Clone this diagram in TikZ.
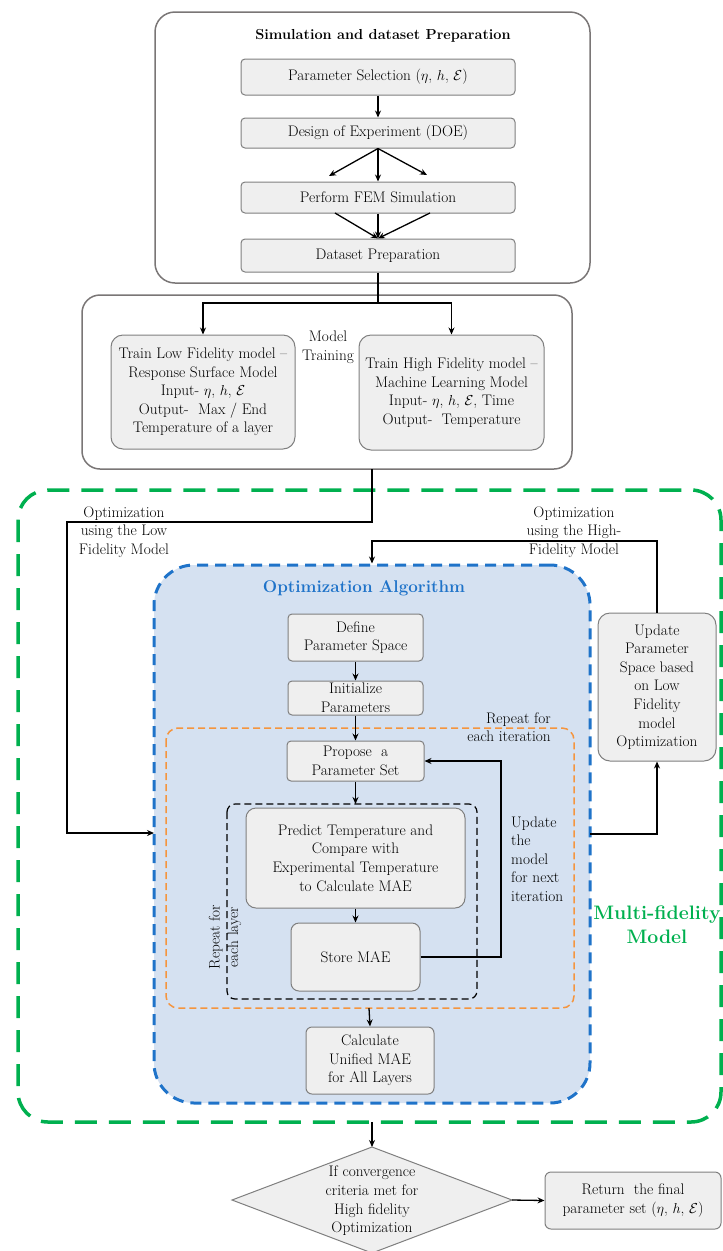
\documentclass[tikz,border=0pt]{standalone}
\usetikzlibrary{arrows.meta,calc}
\definecolor{boxfill}{HTML}{EFEFEF}
\definecolor{boxline}{HTML}{7F7F7F}
\definecolor{outline}{HTML}{7A7676}
\definecolor{bluebg}{HTML}{D5E1F1}
\definecolor{blueline}{HTML}{1F73C9}
\definecolor{orangeline}{HTML}{F5953E}
\definecolor{greenline}{HTML}{00B04F}
\newcommand\myfs{\fontsize{15.3}{18.6}\selectfont}
\tikzset{
  gbox/.style={draw=boxline, fill=boxfill, line width=1pt, rounded corners=4pt,
    align=center, inner sep=0pt, font=\myfs},
  outerbox/.style={draw=outline, line width=1.5pt, rounded corners=20pt, inner sep=0pt},
  lbl/.style={align=center, inner sep=0pt, font=\myfs},
  arr/.style={line width=1.3pt, -{Stealth[length=7pt,width=6pt]}},
  conn/.style={line width=1.3pt}
}
\begin{document}
\begin{tikzpicture}[x=1pt,y=-1pt]
\useasboundingbox (0,0) rectangle (723,1251);

% ---------- Simulation block ----------
\node[outerbox, minimum width=435pt, minimum height=271pt] (sim) at (372.5,147.5) {};
\node[lbl, font=\fontsize{14.5}{18}\selectfont\bfseries] (simtitle) at (383,36) {Simulation and dataset Preparation};
\node[gbox, minimum width=274pt, minimum height=36pt] (ps) at (378,77) {Parameter Selection ($\eta$, $h$, $\mathcal{E}$)};
\node[gbox, minimum width=274pt, minimum height=30pt] (doe) at (378,133) {Design of Experiment (DOE)};
\node[gbox, minimum width=274pt, minimum height=31pt] (fem) at (378,197.5) {Perform FEM Simulation};
\node[gbox, minimum width=274pt, minimum height=33pt] (dsp) at (378,255.5) {Dataset Preparation};

\draw[arr] (ps.south) -- (doe.north);
\draw[arr] (doe.south) -- (329,176);
\draw[arr] (doe.south) -- (fem.north);
\draw[arr] (doe.south) -- (427,175);
\draw[arr] (335,213) -- (dsp.north);
\draw[arr] (fem.south) -- (dsp.north);
\draw[arr] (430,213) -- (dsp.north);

% ---------- Model training ----------
\node[outerbox, rounded corners=18pt, minimum width=490pt, minimum height=174pt] (train) at (327,382) {};
\node[gbox, rounded corners=12pt, minimum width=184pt, minimum height=114pt] (lf) at (203,392)
  {Train Low Fidelity model --\\Response Surface Model\\Input- $\eta$, $h$, $\mathcal{E}$\\Output- \ Max / End\\Temperature of a layer};
\node[gbox, rounded corners=12pt, minimum width=185pt, minimum height=115pt] (hf) at (451.5,392.5)
  {Train High Fidelity model --\\Machine Learning Model\\Input- $\eta$, $h$, $\mathcal{E}$, Time\\Output- \ Temperature};
\node[lbl] (mt) at (328,347) {Model\\Training};
\coordinate (split) at (378,303);
\draw[conn] (dsp.south) -- (split);
\draw[arr] (split) -| (lf.north);
\draw[arr] (split) -| (hf.north);

% ---------- Multi-fidelity (green) ----------
\draw[greenline, line width=3.5pt, dash pattern=on 22pt off 12pt, rounded corners=30pt]
  (18,490) rectangle (721,1122);
\node[lbl, font=\fontsize{19.5}{24}\selectfont\bfseries, text=greenline] (mf) at (657,925) {Multi-fidelity\\Model};

% ---------- Optimization algorithm (blue) ----------
\node[draw=blueline, fill=bluebg, line width=3pt, dash pattern=on 11pt off 7pt,
  rounded corners=40pt, minimum width=436pt, minimum height=538pt, inner sep=0pt] (opt) at (372,834) {};
\node[lbl, font=\fontsize{17}{20}\selectfont\bfseries, text=blueline] (opttitle) at (364,588) {Optimization Algorithm};

\node[gbox, minimum width=135pt, minimum height=47pt] (def) at (355.5,637.5) {Define\\Parameter Space};
\node[gbox, minimum width=135pt, minimum height=34pt] (init) at (355.5,698) {Initialize\\Parameters};

\draw[orangeline, line width=1.5pt, dash pattern=on 7pt off 4pt, rounded corners=12pt]
  (166,728) rectangle (574,1008);
\node[lbl, align=right, anchor=east] (rep) at (551,727) {Repeat for\\each iteration};

\node[gbox, minimum width=137pt, minimum height=40pt] (prop) at (355.5,761) {Propose \ a\\Parameter Set};

\draw[black, line width=1.2pt, dash pattern=on 7pt off 4pt, rounded corners=8pt]
  (227,804) rectangle (477,999);
\node[lbl, rotate=90] (repl) at (225,937) {Repeat for\\each layer};

\node[gbox, rounded corners=10pt, minimum width=219pt, minimum height=100pt] (pred) at (355.5,858)
  {Predict Temperature and\\Compare with\\Experimental Temperature\\to Calculate MAE};
\node[gbox, rounded corners=8pt, minimum width=129pt, minimum height=68pt] (store) at (355.5,957) {Store MAE};
\node[gbox, rounded corners=6pt, minimum width=128pt, minimum height=67pt] (calc) at (370,1060.5)
  {Calculate\\Unified MAE\\for All Layers};
\node[lbl, align=left, anchor=west] (upd) at (511,859) {Update\\the\\model\\for next\\iteration};

\coordinate (blackTop) at (355.5,804);
\coordinate (orangeBot) at (369,1008);
\coordinate (loopR) at (501,957);
\draw[arr] (def.south) -- (init.north);
\draw[arr] (init.south) -- (prop.north);
\draw[arr] (prop.south) -- (blackTop);
\draw[arr] (pred.south) -- (store.north);
\draw[arr] (orangeBot) -- (calc.north);
\draw[arr] (store.east) -- (loopR) |- (prop.east);

% ---------- Update parameter space ----------
\node[gbox, rounded corners=12pt, minimum width=118pt, minimum height=148pt] (ups) at (657,687)
  {Update\\Parameter\\Space based\\on Low\\Fidelity\\model\\Optimization};

% low fidelity path
\coordinate (trainOut) at (372,469);
\coordinate (lowA) at (372,522);
\coordinate (lowB) at (67,522);
\coordinate (lowC) at (67,833);
\coordinate (blueLeft) at (154,833);
\draw[arr] (trainOut) -- (lowA) -- (lowB) -- (lowC) -- (blueLeft);
\node[lbl] (lowlbl) at (124,532) {Optimization\\using the Low\\Fidelity Model};

% high fidelity path
\coordinate (hiA) at (657,541);
\coordinate (hiB) at (372,541);
\draw[arr] (ups.north) -- (hiA) -- (hiB) -- (opt.north);
\node[lbl] (hilbl) at (574,532) {Optimization\\using the High-\\Fidelity Model};

\coordinate (blueRight) at (590,834);
\draw[arr] (blueRight) -| (ups.south);

% ---------- Convergence ----------
\coordinate (dtop) at (372,1147);
\coordinate (dright) at (512,1200);
\coordinate (dbot) at (372,1253);
\coordinate (dleft) at (232,1200);
\draw[boxline, fill=boxfill, line width=1pt] (dtop) -- (dright) -- (dbot) -- (dleft) -- cycle;
\node[lbl] (cond) at (372,1201) {If convergence\\criteria met for\\High fidelity\\Optimization};
\coordinate (greenBot) at (372,1122);
\draw[arr] (greenBot) -- (dtop);

\node[gbox, rounded corners=6pt, minimum width=176pt, minimum height=57pt] (ret) at (633,1200.5)
  {Return \ the final\\parameter set ($\eta$, $h$, $\mathcal{E}$)};
\draw[arr] (dright) -- (ret.west);
\end{tikzpicture}
\end{document}
